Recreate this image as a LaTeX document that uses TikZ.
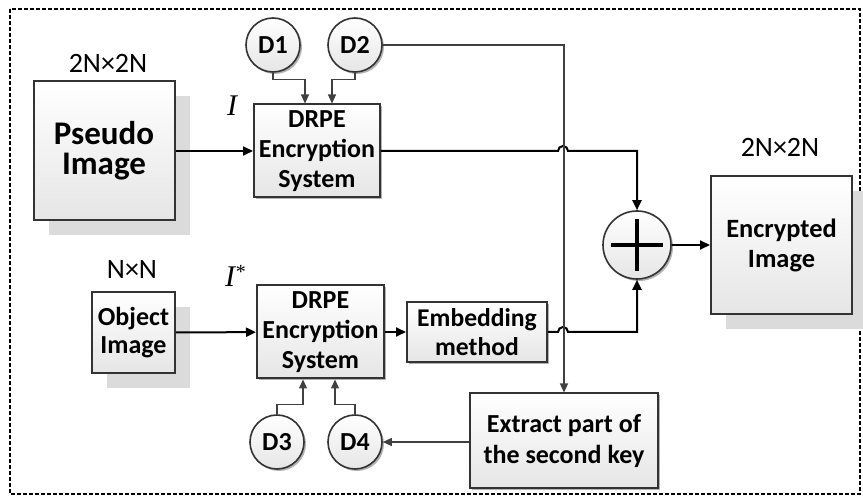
\documentclass[tikz,border=0pt]{standalone}
\usepackage{fontspec}
\setmainfont{Carlito}
\newfontfamily\serifit{Liberation Serif}
\usepackage{tikz}
\usetikzlibrary{arrows.meta, positioning, calc, shadows, shapes}

\tikzset{
  block/.style={draw=black!80, line width=1pt, top color=white, bottom color=black!10,
    align=center, font=\bfseries, inner sep=0pt},
  bigshadow/.style={general shadow={fill=black!14, shadow xshift=7.5pt, shadow yshift=-7.5pt}},
  smallshadow/.style={general shadow={fill=black!30, shadow xshift=1pt, shadow yshift=-1pt}},
  keynode/.style={circle, draw=black!80, line width=0.8pt, top color=white, bottom color=black!10,
    minimum size=27pt, inner sep=0pt, font=\fontsize{13}{15}\selectfont\bfseries, smallshadow},
  flow/.style={line width=1pt, -{Triangle[length=5pt,width=4.5pt]}},
  keyline/.style={black!75, line width=0.6pt, -{Triangle[length=4.5pt,width=4pt]}}
}

\begin{document}
\begin{tikzpicture}[x=0.5pt, y=-0.5pt]
\useasboundingbox (0,0) rectangle (863,497);

% outer frame
\draw[line width=1.2pt, dash pattern=on 2pt off 1pt] (10,9) rectangle (860,494);

% image blocks
\node[block, bigshadow, minimum width=70.5pt, minimum height=69.5pt,
  font=\fontsize{16.5}{15}\selectfont\bfseries] (pseudo) at (104,151) {Pseudo\\Image};
\node[block, bigshadow, minimum width=41.5pt, minimum height=40.5pt,
  font=\fontsize{13}{14}\selectfont\bfseries] (object) at (133.5,332.5) {Object\\Image};
\node[block, bigshadow, minimum width=70.5pt, minimum height=69pt,
  font=\fontsize{13.2}{15}\selectfont\bfseries] (encrypted) at (781.5,245) {Encrypted\\Image};

% processing blocks
\node[block, smallshadow, minimum width=63pt, minimum height=46.5pt,
  font=\fontsize{13}{15}\selectfont\bfseries] (drpeA) at (317,151) {DRPE\\Encryption\\System};
\node[block, smallshadow, minimum width=63.5pt, minimum height=46.5pt,
  font=\fontsize{13}{15}\selectfont\bfseries] (drpeB) at (320.5,332) {DRPE\\Encryption\\System};
\node[block, smallshadow, minimum width=70pt, minimum height=30pt,
  font=\fontsize{12.8}{14.5}\selectfont\bfseries] (embed) at (477,332) {Embedding\\method};
\node[block, smallshadow, minimum width=94pt, minimum height=47.5pt,
  font=\fontsize{13}{15.5}\selectfont\bfseries] (extract) at (564,441) {Extract part of\\the second key};

% keys
\node[keynode] (D1) at (273,45) {D1};
\node[keynode] (D2) at (355,45) {D2};
\node[keynode] (D3) at (277,442) {D3};
\node[keynode] (D4) at (355,442) {D4};

% xor
\node[circle, draw=black!80, line width=0.8pt, top color=white, bottom color=black!10,
  minimum size=34pt, smallshadow] (xor) at (637,245) {};
\draw[line width=2pt] ($(xor)+(-26,0)$) -- ($(xor)+(26,0)$);
\draw[line width=2pt] ($(xor)+(0,-26)$) -- ($(xor)+(0,26)$);

% labels
\node[font=\fontsize{14}{16}\selectfont] (sizeA) at (108,63) {2N×2N};
\node[font=\fontsize{14}{16}\selectfont] (sizeB) at (780,147) {2N×2N};
\node[font=\fontsize{14}{16}\selectfont] (sizeC) at (132,270) {N×N};
\node[font=\fontsize{15}{17}\selectfont\serifit\itshape] (labI) at (232,106) {I};
\node[font=\fontsize{15}{17}\selectfont\serifit\itshape] (labIs) at (235,276) {I\raisebox{0.6ex}{\fontsize{10}{11}\selectfont *}};

% main flow
\draw[flow] (pseudo) -- (drpeA);
\draw[flow] (object) -- (drpeB);
\draw[flow] (drpeB) -- (embed);
\draw[flow] (drpeA.east) -- (558,151) arc[start angle=180, end angle=360, radius=5] -| (xor.north);
\draw[flow] (embed.east) -- (558,332) arc[start angle=180, end angle=360, radius=5] -| (xor.south);
\draw[flow] (xor.east) -- (xor.east -| encrypted.west);

% key lines
\draw[keyline] (D1.south) -- ++(0,7) -| ($(drpeA.north)+(-12,0)$);
\draw[keyline] (D2.south) -- ++(0,7) -| ($(drpeA.north)+(15,0)$);
\draw[keyline] (D3.north) -- ++(0,-10) -| ($(drpeB.south)+(-17.5,0)$);
\draw[keyline] (D4.north) -- ++(0,-10) -| ($(drpeB.south)+(14.5,0)$);
\draw[keyline] (D2.east) -| (extract.north);
\draw[keyline] (extract.west |- D4) -- (D4.east);

\end{tikzpicture}
\end{document}
